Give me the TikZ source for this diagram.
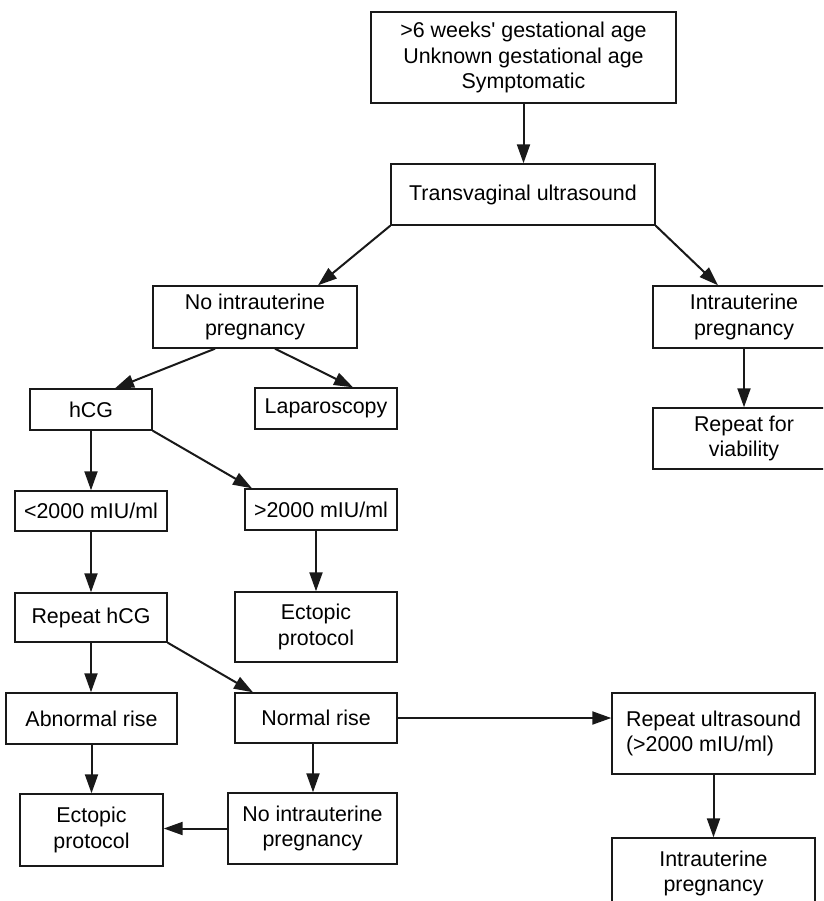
\documentclass[tikz,border=0pt]{standalone}
\usepackage{fontspec}
\setmainfont{Liberation Sans}
\usetikzlibrary{arrows.meta}

\tikzset{
  box/.style={draw=black!90, line width=1.4pt, inner sep=0pt, align=center,
    font=\fontsize{21.4}{25.5}\selectfont, text=black},
  flow/.style={draw=black!90, line width=2pt,
    -{Triangle[length=19pt,width=13pt]}},
}

\begin{document}
\begin{tikzpicture}[x=1pt,y=-1pt]
\useasboundingbox (0,0) rectangle (823,901);
\clip (0,0) rectangle (823,901);
\fill[white] (0,0) rectangle (823,901);

% boxes
\node[box, minimum width=305, minimum height=91] (top) at (523.5,57.5)
  {>6 weeks\textquotesingle\ gestational age\\Unknown gestational age\\Symptomatic};
\node[box, minimum width=264, minimum height=61] (tv) at (523,194.5)
  {Transvaginal ultrasound};
\node[box, minimum width=204, minimum height=62] (nipA) at (255,317)
  {No intrauterine\\pregnancy};
\node[box, minimum width=182, minimum height=62] (iupA) at (744,317)
  {Intrauterine\\pregnancy};
\node[box, minimum width=182, minimum height=61] (viab) at (744,438.5)
  {Repeat for\\viability};
\node[box, minimum width=122, minimum height=41] (hcg) at (91,409.5) {hCG};
\node[box, minimum width=142, minimum height=41] (lap) at (326,408.5) {Laparoscopy};
\node[box, minimum width=152, minimum height=40] (lt) at (91,511) {<2000 mIU/ml};
\node[box, minimum width=152, minimum height=41] (gt) at (321,509.5) {>2000 mIU/ml};
\node[box, minimum width=162, minimum height=70] (ectoA) at (316,627)
  {Ectopic\\protocol};
\node[box, minimum width=152, minimum height=49] (rep) at (91,617.5) {Repeat hCG};
\node[box, minimum width=171, minimum height=51] (abn) at (91.5,718.5) {Abnormal rise};
\node[box, minimum width=162, minimum height=50] (norm) at (316,718) {Normal rise};
\node[box, minimum width=143, minimum height=72] (ectoB) at (91.5,830)
  {Ectopic\\protocol};
\node[box, minimum width=169, minimum height=71] (nipB) at (312.5,828.5)
  {No intrauterine\\pregnancy};
\node[box, minimum width=203, minimum height=81, align=left] (rus) at (713.5,733.5)
  {Repeat ultrasound\\(>2000 mIU/ml)};
\node[box, minimum width=203, minimum height=71] (iupB) at (713.5,873.5)
  {Intrauterine\\pregnancy};

% connectors
\draw[flow] (top.south) -- (top.south |- tv.north);
\draw[flow] (tv.south west) -- ([xshift=63]nipA.north);
\draw[flow] (tv.south east) -- ([xshift=-26]iupA.north);
\draw[flow] (iupA.south) -- (viab.north);
\draw[flow] ([xshift=-40]nipA.south) -- ([xshift=24]hcg.north);
\draw[flow] ([xshift=20]nipA.south) -- ([xshift=27]lap.north);
\draw[flow] (hcg.south) -- (lt.north);
\draw[flow] (hcg.south east) -- ([xshift=-69]gt.north);
\draw[flow] ([xshift=-5]gt.south) -- (ectoA.north);
\draw[flow] (lt.south) -- (rep.north);
\draw[flow] (rep.south) -- (rep.south |- abn.north);
\draw[flow] (rep.south east) -- ([xshift=-63]norm.north);
\draw[flow] (abn.south) -- (abn.south |- ectoB.north);
\draw[flow] ([xshift=-3]norm.south) -- ([xshift=-3]norm.south |- nipB.north);
\draw[flow] (nipB.west) -- (nipB.west -| ectoB.east);
\draw[flow] (norm.east) -- (norm.east -| rus.west);
\draw[flow] (rus.south) -- (iupB.north);
\end{tikzpicture}
\end{document}
